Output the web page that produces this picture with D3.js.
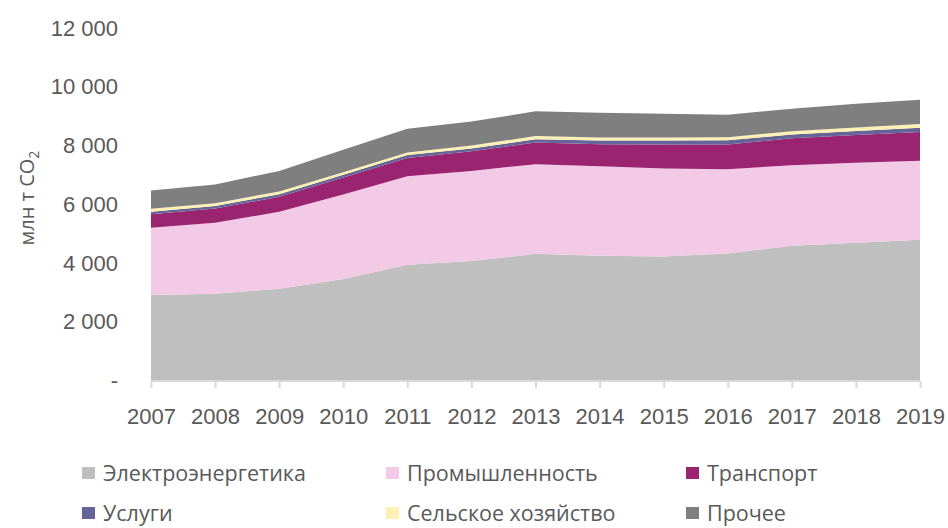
<!DOCTYPE html>
<html><head><meta charset="utf-8">
<script src="https://cdn.jsdelivr.net/npm/d3@7"></script>
<style>body{margin:0;background:#fff;} svg{display:block;font-family:"Open Sans",sans-serif;}</style>
</head><body><svg id="c" width="948" height="528"></svg>
<script>
const years = [2007,2008,2009,2010,2011,2012,2013,2014,2015,2016,2017,2018,2019];
const seriesNames = ["Электроэнергетика","Промышленность","Транспорт","Услуги","Сельское хозяйство","Прочее"];
const electricity = [2908,2952,3123,3452,3939,4065,4313,4245,4224,4326,4586,4688,4789];
const industry    = [2289,2415,2618,2881,3017,3071,3051,3051,2993,2868,2744,2721,2688];
const transport   = [466,490,511,578,622,670,738,748,817,840,918,952,986];
const services    = [80,85,90,90,95,95,110,130,135,145,125,135,145];
const agriculture = [100,95,90,90,90,95,110,100,100,100,115,120,120];
const other       = [623,633,704,762,806,817,840,837,816,772,761,806,830];
const yTicks = [0,2000,4000,6000,8000,10000,12000];
const colors = ["#bfbfbf","#f2cae6","#9b2470","#656598","#fff0b3","#7f7f7f"];

const svg = d3.select("#c");
const x = d3.scaleLinear().domain([2007,2019]).range([151,920]);
const y = d3.scaleLinear().domain([0,12000]).range([380.5,28]);

const rows = years.map((yr,i)=>({year:yr, s0:electricity[i], s1:industry[i], s2:transport[i], s3:services[i], s4:agriculture[i], s5:other[i]}));
const keys = ["s0","s1","s2","s3","s4","s5"];
const stack = d3.stack().keys(keys)(rows);
const area = d3.area().x(d=>x(d.data.year)).y0(d=>y(d[0])).y1(d=>y(d[1]));
svg.append("g").selectAll("path").data(stack).join("path")
  .attr("d",area).attr("fill",(d,i)=>colors[i]);

// x axis
const xAxis = d3.axisBottom(x).tickValues(years).tickFormat(d3.format("d")).tickSize(7).tickPadding(20);
const gx = svg.append("g").attr("transform","translate(0,381)").call(xAxis);
gx.select(".domain").attr("stroke","#d9d9d9").attr("stroke-width",2).attr("d","M151,0H920");
gx.selectAll(".tick line").attr("stroke","#d9d9d9").attr("stroke-width",2);
gx.selectAll("text").attr("fill","#595959").attr("font-size",22);

// y axis
const fmt = v => v===0 ? "-" : d3.format(",")(v).replace(/,/g," ");
const gy = svg.append("g").attr("transform","translate(118,0)")
  .call(d3.axisLeft(y).tickValues(yTicks).tickFormat(fmt).tickSize(0).tickPadding(0));
gy.select(".domain").remove();
gy.selectAll("text").attr("fill","#595959").attr("font-size",22);

// y title
const yt = svg.append("text").attr("transform","translate(34,198) rotate(-90)")
  .attr("text-anchor","middle").attr("fill","#595959").attr("font-size",20);
yt.append("tspan").text("млн т CO");
yt.append("tspan").attr("font-size",14).attr("dy",5).text("2");

// legend
const legPos = [[82,473],[386,473],[686,473],[82,513],[386,513],[686,513]];
const lg = svg.append("g").selectAll("g").data(seriesNames).join("g")
  .attr("transform",(d,i)=>`translate(${legPos[i][0]},${legPos[i][1]})`);
lg.append("rect").attr("x",0).attr("y",-6).attr("width",13).attr("height",12).attr("fill",(d,i)=>colors[i]);
lg.append("text").attr("x",21).attr("y",0).attr("dy","0.35em").attr("fill","#595959").attr("font-size",21.5)
  .text(d=>d);
</script></body></html>
